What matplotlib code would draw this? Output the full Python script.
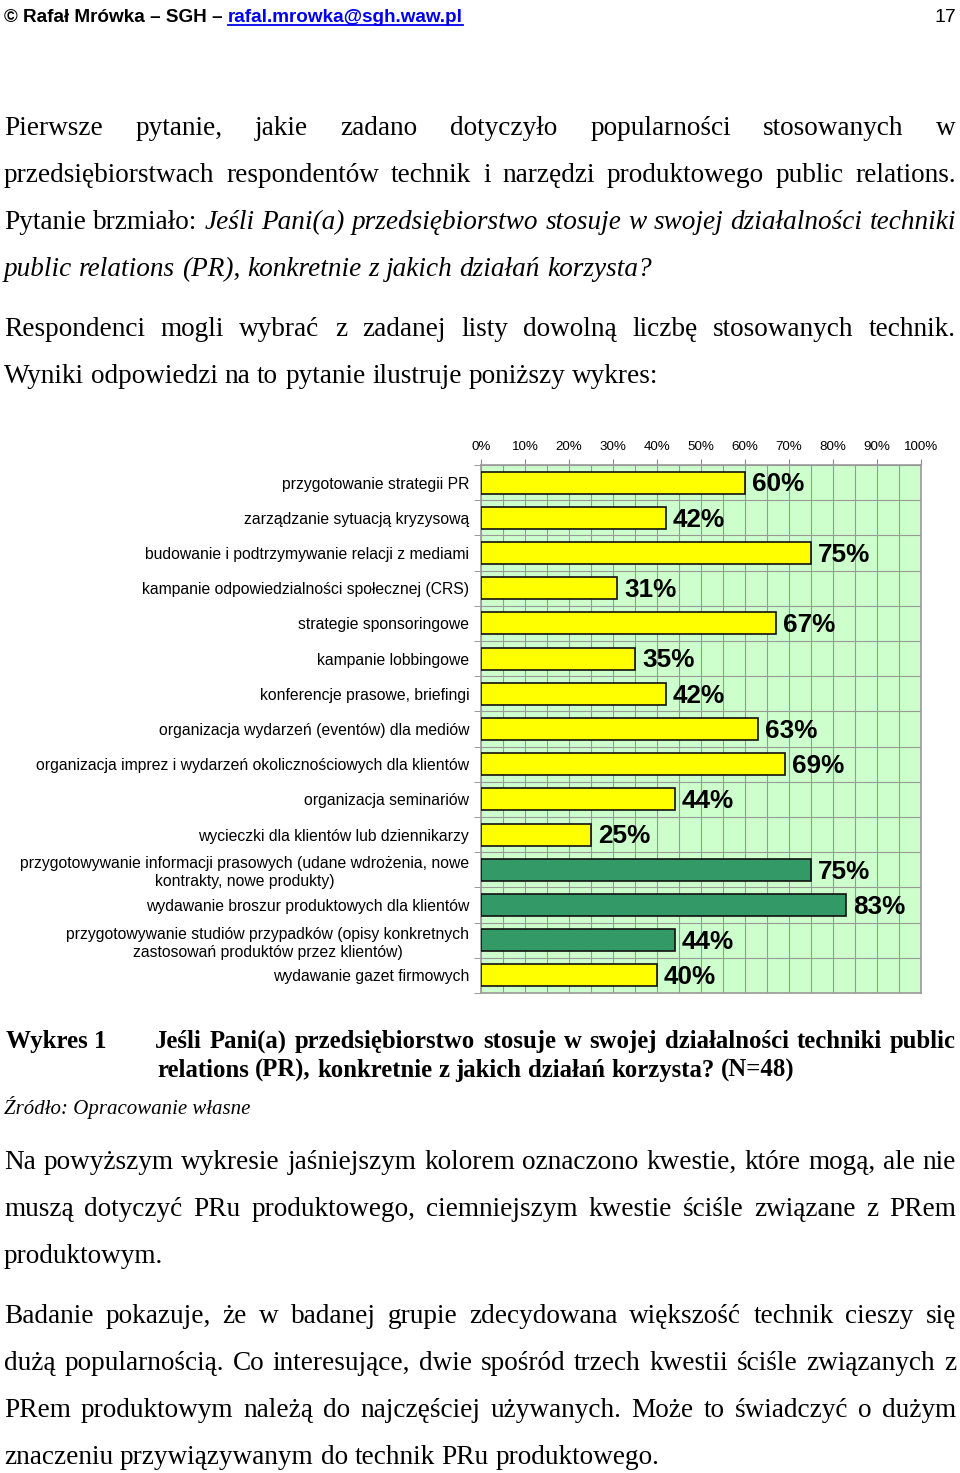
import numpy as np
import matplotlib.pyplot as plt
from matplotlib.lines import Line2D

# Chart data
categories = [
    'przygotowanie strategii PR',
    'zarządzanie sytuacją kryzysową',
    'budowanie i podtrzymywanie relacji z mediami',
    'kampanie odpowiedzialności społecznej (CRS)',
    'strategie sponsoringowe',
    'kampanie lobbingowe',
    'konferencje prasowe, briefingi',
    'organizacja wydarzeń (eventów) dla mediów',
    'organizacja imprez i wydarzeń okolicznościowych dla klientów',
    'organizacja seminariów',
    'wycieczki dla klientów lub dziennikarzy',
    'przygotowywanie informacji prasowych (udane wdrożenia, nowe\nkontrakty, nowe produkty)',
    'wydawanie broszur produktowych dla klientów',
    'przygotowywanie studiów przypadków (opisy konkretnych\nzastosowań produktów przez klientów)',
    'wydawanie gazet firmowych',
]
values = [60, 42, 75, 31, 67, 35, 42, 63, 69, 44, 25, 75, 83, 44, 40]
product_pr = [False] * 11 + [True, True, True] + [False]
tick_values = list(range(0, 101, 10))

W, H = 960, 1473
fig = plt.figure(figsize=(W / 100, H / 100), dpi=100)
renderer = fig.canvas.get_renderer()

SERIF = 'Liberation Serif'
SANS = 'Liberation Sans'
BODY = 19.6


def px(x, y):
    return x / W, 1 - y / H


def put(x, y, s, **kw):
    return fig.text(*px(x, y), s, transform=fig.transFigure, **kw)


def width_of(t):
    return t.get_window_extent(renderer).width


def space_width(size, style, weight):
    a = put(0, 0, 'a a', family=SERIF, fontsize=size, style=style, weight=weight)
    b = put(0, 0, 'aa', family=SERIF, fontsize=size, style=style, weight=weight)
    sw = width_of(a) - width_of(b)
    a.remove()
    b.remove()
    return sw


def line(y, parts, x0=4, x1=956, size=BODY, justify=True):
    # parts: list of (text, style, weight)
    words = []
    for txt, style, weight in parts:
        for w in txt.split():
            words.append((w, style, weight))
    items = [put(x0, y, w, family=SERIF, fontsize=size, style=st, weight=wt,
                 va='baseline', ha='left') for w, st, wt in words]
    widths = [width_of(t) for t in items]
    if justify and len(items) > 1:
        gap = (x1 - x0 - sum(widths)) / (len(items) - 1)
    else:
        gap = space_width(size, words[0][1], words[0][2])
    x = x0
    for t, w in zip(items, widths):
        t.set_position(px(x, y))
        x += w + gap


# Header
h1 = put(4, 22, '© Rafał Mrówka – SGH – ', family=SANS, fontsize=13.6,
         weight='bold', va='baseline')
wh = width_of(h1)
h2 = put(4 + wh, 22, 'rafal.mrowka@sgh.waw.pl', family=SANS, fontsize=13.6,
         weight='bold', color='#0000ee', va='baseline')
wl = width_of(h2)
fig.add_artist(Line2D([(4 + wh) / W, (4 + wh + wl) / W], [1 - 25 / H] * 2,
                      color='#0000ee', lw=1.3, transform=fig.transFigure))
put(956, 22, '17', family=SANS, fontsize=14, ha='right', va='baseline')

# Paragraph above chart
N, I, B = 'normal', 'italic', 'bold'
line(135, [('Pierwsze pytanie, jakie zadano dotyczyło popularności stosowanych w', N, N)])
line(182, [('przedsiębiorstwach respondentów technik i narzędzi produktowego public relations.', N, N)])
line(229, [('Pytanie brzmiało:', N, N),
           ('Jeśli Pani(a) przedsiębiorstwo stosuje w swojej działalności techniki', I, N)])
line(276, [('public relations (PR), konkretnie z jakich działań korzysta?', I, N)], justify=False)
line(336, [('Respondenci mogli wybrać z zadanej listy dowolną liczbę stosowanych technik.', N, N)])
line(383, [('Wyniki odpowiedzi na to pytanie ilustruje poniższy wykres:', N, N)], justify=False)

# Chart
ax = fig.add_axes([481 / W, 1 - 993 / H, 440 / W, 528 / H])
ax.set_facecolor('#ccffcc')
y = np.arange(len(values))
colors = ['#339966' if p else '#ffff00' for p in product_pr]
ax.barh(y, values, height=0.62, color=colors, edgecolor='#111111', lw=1.2, zorder=3)
ax.set_xlim(0, 100)
ax.set_ylim(len(values) - 0.5, -0.5)
ax.set_xticks(tick_values)
ax.set_xticklabels([f'{v}%' for v in tick_values], family=SANS, fontsize=9.6)
ax.set_xticks(range(0, 101, 5), minor=True)
ax.xaxis.tick_top()
ax.tick_params(axis='x', which='major', length=4, color='#888888', pad=5)
ax.tick_params(axis='x', which='minor', length=0)
ax.grid(axis='x', which='both', color='#999999', lw=0.8, zorder=1)
ax.set_yticks(np.arange(-0.5, len(values), 1), minor=True)
ax.set_yticks(y)
ax.set_yticklabels(categories, family=SANS, fontsize=11.3, multialignment='center',
                   linespacing=1.25)
ax.tick_params(axis='y', which='major', length=0, pad=8.5)
ax.tick_params(axis='y', which='minor', length=5, color='#888888')
ax.grid(axis='y', which='minor', color='#999999', lw=0.8, zorder=1)
for s in ax.spines.values():
    s.set_color('#999999')
    s.set_linewidth(1.2)
for i, v in enumerate(values):
    ax.text(v + 1.6, i + 0.05, f'{v}%', family=SANS, fontsize=18.8, weight='bold',
            va='center', ha='left', zorder=4)

# Caption
put(6, 1048, 'Wykres 1', family=SERIF, fontsize=18, weight='bold', va='baseline')
line(1048, [('Jeśli Pani(a) przedsiębiorstwo stosuje w swojej działalności techniki public', N, B)],
     x0=155, size=17.8)
line(1077, [('relations (PR), konkretnie z jakich działań korzysta? (N=48)', N, B)],
     x0=157, size=17.8, justify=False)
put(4, 1114, 'Źródło: Opracowanie własne', family=SERIF, fontsize=15, style='italic',
    va='baseline')

# Paragraphs below chart
line(1169, [('Na powyższym wykresie jaśniejszym kolorem oznaczono kwestie, które mogą, ale nie', N, N)])
line(1216, [('muszą dotyczyć PRu produktowego, ciemniejszym kwestie ściśle związane z PRem', N, N)])
line(1263, [('produktowym.', N, N)], justify=False)
line(1323, [('Badanie pokazuje, że w badanej grupie zdecydowana większość technik cieszy się', N, N)])
line(1370, [('dużą popularnością. Co interesujące, dwie spośród trzech kwestii ściśle związanych z', N, N)])
line(1417, [('PRem produktowym należą do najczęściej używanych. Może to świadczyć o dużym', N, N)])
line(1464, [('znaczeniu przywiązywanym do technik PRu produktowego.', N, N)], justify=False)

fig.savefig('out.png', dpi=100)
